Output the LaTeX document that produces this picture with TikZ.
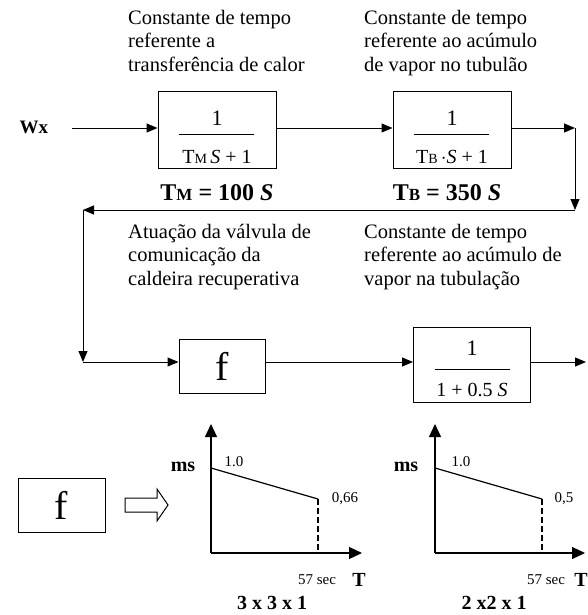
\documentclass[tikz,border=0pt]{standalone}
\usepackage{fontspec}
\setmainfont{Liberation Serif}
\usetikzlibrary{positioning,arrows.meta}
\newcommand{\subcap}[3]{#1{\fontsize{#3}{#3}\selectfont #2}}

\begin{document}
\begin{tikzpicture}[x=1pt, y=-1pt,
  blk/.style={draw, line width=1pt, inner sep=0pt, align=center},
  fnum/.style={inner sep=0pt, font=\fontsize{22}{22}\selectfont},
  fden/.style={inner sep=0pt, font=\fontsize{20}{20}\selectfont},
  bar/.style={line width=0.9pt},
  note/.style={anchor=north west, align=left, inner sep=0pt, font=\fontsize{20.5}{23.5}\selectfont},
  gain/.style={font=\bfseries\fontsize{24}{24}\selectfont},
  arr/.style={-{Triangle[length=11pt, width=9pt]}, line width=1pt},
  ax/.style={-{Triangle[length=13pt, width=12pt]}, line width=1.2pt},
  tick/.style={font=\fontsize{15}{15}\selectfont, inner sep=0pt},
  axlab/.style={font=\bfseries\fontsize{20}{20}\selectfont, inner sep=0pt}]
\useasboundingbox (0,0) rectangle (587,615);
% upper chain
\node[font=\bfseries\fontsize{19}{19}\selectfont] (wx) at (34,127) {Wx};
\coordinate (src) at (72,128);
\node[blk, minimum width=118pt, minimum height=76pt] (tm) at (217,130) {};
\node[fnum] (tmnum) at (217,118) {1};
\draw[bar] (179,134) -- (254,134);
\node[fden] (tmden) at (217,157) {\subcap{T}{M}{14}\,\textit{S} + 1};
\node[blk, minimum width=118pt, minimum height=76pt] (tb) at (452,130) {};
\node[fnum] (tbnum) at (452,118) {1};
\draw[bar] (414,134) -- (489,134);
\node[fden] (tbden) at (452,157) {\subcap{T}{B}{14}\,$\cdot$\textit{S} + 1};
\node[gain] (tmval) at (217,193) {\subcap{T}{\bfseries M}{17} = 100 \textit{S}};
\node[gain] (tbval) at (447,193) {\subcap{T}{\bfseries B}{17} = 350 \textit{S}};
\node[note] (lab1) at (128,10) {Constante de tempo\\referente a\\transferência de calor};
\node[note] (lab2) at (364,10) {Constante de tempo\\referente ao acúmulo\\de vapor no tubulão};
% return path
\coordinate (c1) at (575,128);
\coordinate (c2) at (575,210);
\coordinate (c3) at (83,210);
\coordinate (c4) at (83,362);
% lower chain
\node[note] (lab3) at (128,224) {Atuação da válvula de\\comunicação da\\caldeira recuperativa};
\node[note] (lab4) at (364,224) {Constante de tempo\\referente ao acúmulo de\\vapor na tubulação};
\node[blk, minimum width=86pt, minimum height=54pt, font=\fontsize{40}{40}\selectfont] (valve) at (222,366) {f};
\node[blk, minimum width=117pt, minimum height=75pt] (line) at (472,365) {};
\node[fnum] (linenum) at (472,348) {1};
\draw[bar] (435,369) -- (510,369);
\node[fden] (lineden) at (472,390) {1 + 0.5 \textit{S}};
\coordinate (out) at (586,362);
\draw[arr] (src) -- (tm.west |- src);
\draw[arr] (tm.east |- src) -- (tb.west |- src);
\draw[arr] (tb.east |- src) -- (c1);
\draw[arr] (c1) -- (c2);
\draw[arr] (c2) -- (c3);
\draw[arr] (c3) -- (c4);
\draw[arr] (c4) -- (valve.west |- c4);
\draw[arr] (valve.east |- c4) -- (line.west |- c4);
\draw[arr] (line.east |- c4) -- (out);
% legend of f
\node[blk, minimum width=87pt, minimum height=54pt, font=\fontsize{40}{40}\selectfont] (fkey) at (61.5,505) {f};
\draw[line width=1pt] (125,498) -- (157,498) -- (157,489) -- (168,505) -- (157,521) -- (157,512) -- (125,512) -- cycle;
% curve 3 x 3 x 1
\coordinate (o1) at (211,553);
\coordinate (y1) at (211,424);
\coordinate (x1) at (362,553);
\coordinate (p1) at (211,468);
\coordinate (q1) at (318,499);
\draw[ax] (o1) -- (y1);
\draw[ax] (o1) -- (x1);
\draw[line width=1.2pt] (p1) -- (q1);
\draw[line width=1.2pt, dash pattern=on 6pt off 3pt] (q1) -- (q1 |- o1);
\node[axlab] (ms1) at (183,467) {ms};
\node[tick] (top1) at (234,462) {1.0};
\node[tick] (end1) at (345,499) {0,66};
\node[tick] (t1) at (317,580) {57 sec};
\node[axlab] (ax1) at (359,580) {T};
\node[gain, font=\bfseries\fontsize{20}{20}\selectfont] (cap1) at (272,603) {3 x 3 x 1};
% curve 2 x 2 x 1
\coordinate (o2) at (435,553);
\coordinate (y2) at (435,424);
\coordinate (x2) at (585,553);
\coordinate (p2) at (435,468);
\coordinate (q2) at (542,499);
\draw[ax] (o2) -- (y2);
\draw[ax] (o2) -- (x2);
\draw[line width=1.2pt] (p2) -- (q2);
\draw[line width=1.2pt, dash pattern=on 6pt off 3pt] (q2) -- (q2 |- o2);
\node[axlab] (ms2) at (406,467) {ms};
\node[tick] (top2) at (461,462) {1.0};
\node[tick] (end2) at (564,499) {0,5};
\node[tick] (t2) at (546,580) {57 sec};
\node[axlab] (ax2) at (581,580) {T};
\node[gain, font=\bfseries\fontsize{20}{20}\selectfont] (cap2) at (494,603) {2 x2 x 1};
\end{tikzpicture}
\end{document}
